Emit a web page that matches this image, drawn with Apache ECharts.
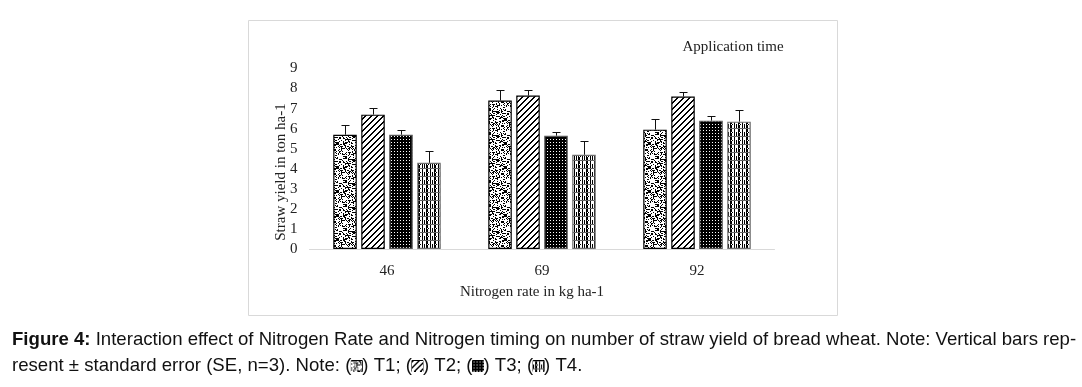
<!DOCTYPE html>
<html><head><meta charset="utf-8">
<script src="https://cdn.jsdelivr.net/npm/echarts@6/dist/echarts.min.js"></script>
<style>html,body{margin:0;padding:0;background:#fff}#c{width:1082px;height:387px}</style>
</head><body><div id="c"></div>
<script>
// ---------- data ----------
const categories = ['46', '69', '92'];
const seriesNames = ['T1', 'T2', 'T3', 'T4'];
const t1 = [5.7, 7.4, 5.95];
const t2 = [6.7, 7.65, 7.6];
const t3 = [5.7, 5.65, 6.4];
const t4 = [4.3, 4.7, 6.35];
const se1 = [0.5, 0.55, 0.55];
const se2 = [0.35, 0.3, 0.25];
const se3 = [0.25, 0.2, 0.25];
const se4 = [0.6, 0.7, 0.6];
const yMin = 0, yMax = 9, yStep = 1;
const xAxisTitle = 'Nitrogen rate in kg ha-1';
const yAxisTitle = 'Straw yield in ton ha-1';
const legendTitle = 'Application time';
const captionLine1 = 'Interaction effect of Nitrogen Rate and Nitrogen timing on number of straw yield of bread wheat. Note: Vertical bars rep-';

// ---------- patterns ----------
function tile(w, h, draw) {
  const c = document.createElement('canvas');
  c.width = w; c.height = h;
  const g = c.getContext('2d');
  g.fillStyle = '#fff'; g.fillRect(0, 0, w, h);
  draw(g, w, h);
  return c;
}
function px(g, x, y, col) { g.fillStyle = col || '#000'; g.fillRect(x, y, 1, 1); }
const speckle = (g, w, h) => {
  for (let y = 0; y < h; y++) for (let x = 0; x < w; x++) {
    let v = ((x * 374761393) ^ (y * 668265263)) >>> 0;
    v = Math.imul(v ^ (v >>> 13), 1274126177) >>> 0;
    if ((v % 100) < 36) px(g, x, y, '#000');
  }
};
const stripes = (g, w, h) => {
  for (let y = 0; y < h; y++) for (let x = 0; x < w; x++) {
    if (((x + y) % 6) < 2) px(g, x, y, '#000');
  }
};
const dots = (g, w, h) => {
  g.fillStyle = '#000'; g.fillRect(0, 0, w, h);
  for (let y = 1; y < h; y += 3) for (let x = 1; x < w; x += 3) px(g, x, y, '#fff');
};
const plaid = (g, w, h) => {
  for (let y = 0; y < h; y++) for (let x = 0; x < w; x++) {
    const yy = y % 8, xx = x % 8;
    let on = false;
    if (yy === 0) on = true;
    else if (yy < 4) on = (xx === 2 || xx === 3 || xx === 6);
    else if (yy === 4) on = (xx % 2 === 0);
    else on = (xx === 0 || xx === 2 || xx === 3 || xx === 6);
    if (on) px(g, x, y, yy === 0 ? '#666' : '#000');
  }
};
const patterns = [tile(24, 24, speckle), tile(6, 6, stripes), tile(3, 3, dots), tile(8, 8, plaid)];
const iconTiles = [tile(11, 11, speckle), tile(11, 11, stripes), tile(11, 11, dots), tile(11, 11, plaid)];
const borderColors = ['#000', '#000', '#555', '#6f6f6f'];

const values = [t1, t2, t3, t4];
const errors = [se1, se2, se3, se4];
const BAR_W = 23.5, BAR_GAP = 4.5;

function errSeries(idx) {
  return {
    type: 'custom', name: seriesNames[idx] + ' SE', z: 10,
    data: values[idx].map((v, i) => [i, v, errors[idx][i]]),
    renderItem: function (params, api) {
      const ci = api.value(0), v = api.value(1), s = api.value(2);
      const b = api.coord([ci, v]);
      const t = api.coord([ci, v + s]);
      const cx = Math.round(b[0] + (idx - 1.5) * (BAR_W + BAR_GAP)) + 0.5;
      const ty = Math.round(t[1]) + 0.5;
      return {
        type: 'group', children: [
          { type: 'line', shape: { x1: cx, y1: b[1], x2: cx, y2: ty }, style: { stroke: '#111', lineWidth: 1 } },
          { type: 'line', shape: { x1: cx - 4, y1: ty, x2: cx + 4, y2: ty }, style: { stroke: '#111', lineWidth: 1 } }
        ]
      };
    }
  };
}

const serif = 'Liberation Serif';
const sans = 'Liberation Sans';
const CAP = 18.6;
const chart = echarts.init(document.getElementById('c'), null, { renderer: 'canvas' });
const richIcons = {};
iconTiles.forEach((c, i) => {
  richIcons['i' + i] = { width: 11, height: 11, backgroundColor: { image: c }, borderColor: '#000', borderWidth: 1 };
});
chart.setOption({
  animation: false,
  backgroundColor: '#fff',
  grid: { left: 309.5, right: 307.5, top: 68.5, bottom: 138 },
  xAxis: {
    type: 'category', data: categories,
    axisLine: { show: true, lineStyle: { color: '#d9d9d9', width: 1 } },
    axisTick: { show: false },
    axisLabel: { color: '#222', fontFamily: serif, fontSize: 15, margin: 15 }
  },
  yAxis: {
    type: 'value', min: yMin, max: yMax, interval: yStep,
    splitLine: { show: false },
    axisLine: { show: false }, axisTick: { show: false },
    axisLabel: { color: '#222', fontFamily: serif, fontSize: 15, margin: 12 }
  },
  series: values.map((vals, i) => ({
    type: 'bar', name: seriesNames[i], data: vals,
    barWidth: BAR_W, barGap: (BAR_GAP / BAR_W * 100).toFixed(1) + '%',
    itemStyle: { color: { image: patterns[i], repeat: 'repeat' }, borderColor: borderColors[i], borderWidth: 1.2 }
  })).concat([0, 1, 2, 3].map(errSeries)),
  graphic: [
    { type: 'rect', shape: { x: 248.5, y: 20.5, width: 589, height: 295 }, style: { fill: 'none', stroke: '#d9d9d9', lineWidth: 1 }, silent: true },
    { type: 'text', x: 733, y: 47, style: { text: legendTitle, fontFamily: serif, fontSize: 15, fill: '#222', align: 'center', verticalAlign: 'middle' } },
    { type: 'text', x: 532, y: 292, style: { text: xAxisTitle, fontFamily: serif, fontSize: 15, fill: '#222', align: 'center', verticalAlign: 'middle' } },
    { type: 'text', x: 281, y: 172, rotation: Math.PI / 2, style: { text: yAxisTitle, fontFamily: serif, fontSize: 15, fill: '#222', align: 'center', verticalAlign: 'middle' } },
    { type: 'text', x: 12, y: 340, style: {
        text: '{b|Figure 4:}{n| ' + captionLine1 + '}',
        fontFamily: sans, fontSize: CAP, fill: '#111', verticalAlign: 'middle',
        rich: { b: { fontWeight: 'bold', fontFamily: sans, fontSize: CAP, fill: '#111' }, n: { fontFamily: sans, fontSize: CAP, fill: '#111' } }
      } },
    { type: 'text', x: 12, y: 366, style: {
        text: '{n|resent \u00b1 standard error (SE, n=3). Note: (}{i0|}{n|) T1; (}{i1|}{n|) T2; (}{i2|}{n|) T3; (}{i3|}{n|) T4.}',
        fontFamily: sans, fontSize: CAP, fill: '#111', verticalAlign: 'middle',
        rich: Object.assign({ n: { fontFamily: sans, fontSize: CAP, fill: '#111' } }, richIcons)
      } }
  ]
});
</script></body></html>
